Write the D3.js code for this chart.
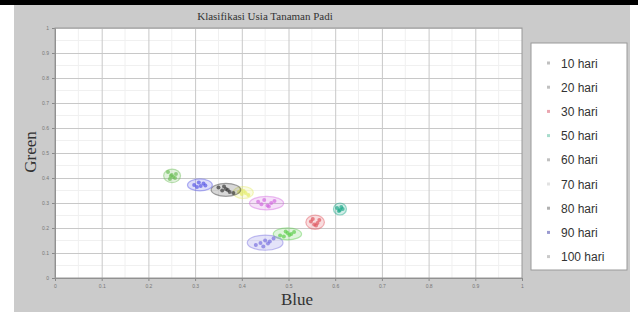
<!DOCTYPE html>
<html>
<head>
<meta charset="utf-8">
<script src="https://cdn.jsdelivr.net/npm/d3@7"></script>
<style>
  body { margin: 0; background: #fff; }
  .tick text { font-family: "Liberation Sans", Arial, sans-serif; font-size: 5px; fill: #777; }
</style>
</head>
<body>
<div class="chart"></div>
<script>
// DATA ------------------------------------
const classes = ["10 hari", "20 hari", "30 hari", "50 hari", "60 hari", "70 hari", "80 hari", "90 hari", "100 hari"];
const colors = ["#6fbf5a", "#d36be0", "#e0575f", "#1fa98a", "#5fcf4f", "#e4ec6a", "#3a3a3a", "#5a5ae6", "#7a72e0"];
const legendColors = ["#c0c0c0", "#c0c0c0", "#eaa6b0", "#a8dccc", "#c0c0c0", "#e2e2e2", "#b0b0b0", "#9a9ad0", "#cacaca"];

// blue / green values of every sample, per class
const blue10 = [0.242, 0.248, 0.257, 0.246, 0.259, 0.253, 0.250];
const green10 = [0.424, 0.408, 0.400, 0.396, 0.416, 0.404, 0.412];
const blue20 = [0.435, 0.442, 0.455, 0.463, 0.470, 0.448, 0.458];
const green20 = [0.305, 0.295, 0.290, 0.300, 0.308, 0.312, 0.286];
const blue30 = [0.548, 0.555, 0.562, 0.566, 0.552, 0.559];
const green30 = [0.226, 0.214, 0.220, 0.232, 0.236, 0.210];
const blue50 = [0.604, 0.610, 0.616, 0.608, 0.613];
const green50 = [0.280, 0.272, 0.276, 0.268, 0.284];
const blue60 = [0.482, 0.490, 0.498, 0.506, 0.512, 0.494, 0.502];
const green60 = [0.170, 0.166, 0.180, 0.176, 0.184, 0.186, 0.172];
const blue70 = [0.394, 0.400, 0.408, 0.414, 0.404, 0.398];
const green70 = [0.344, 0.336, 0.340, 0.332, 0.348, 0.352];
const blue80 = [0.350, 0.358, 0.366, 0.374, 0.382, 0.362, 0.370];
const green80 = [0.362, 0.350, 0.356, 0.344, 0.340, 0.366, 0.352];
const blue90 = [0.298, 0.304, 0.312, 0.318, 0.308, 0.322];
const green90 = [0.372, 0.364, 0.368, 0.378, 0.382, 0.370];
const blue100 = [0.430, 0.440, 0.450, 0.460, 0.468, 0.446, 0.456];
const green100 = [0.132, 0.140, 0.150, 0.146, 0.158, 0.126, 0.138];

const xTicks = [0, 0.1, 0.2, 0.3, 0.4, 0.5, 0.6, 0.7, 0.8, 0.9, 1];
const yTicks = [0, 0.1, 0.2, 0.3, 0.4, 0.5, 0.6, 0.7, 0.8, 0.9, 1];

const blues = [blue10, blue20, blue30, blue50, blue60, blue70, blue80, blue90, blue100];
const greens = [green10, green20, green30, green50, green60, green70, green80, green90, green100];

// CHART INIT ------------------------------
const W = 638, H = 316;
const margin = ({top: 28, right: 116, bottom: 38, left: 55});
const width = W - margin.left - margin.right;
const height = H - margin.top - margin.bottom;

const root = d3.select(".chart").append("svg")
    .attr("width", W)
    .attr("height", H);

// figure background
root.append("rect").attr("x", 0).attr("y", 0).attr("width", W).attr("height", 5).attr("fill", "#000");
root.append("rect").attr("x", 14).attr("y", 5).attr("width", 616).attr("height", 307).attr("fill", "#cbcbcb");

const svg = root.append("g")
    .attr("transform", "translate(" + margin.left + "," + margin.top + ")");

const xScale = d3.scaleLinear().domain([0, 1]).range([0, width]);
const yScale = d3.scaleLinear().domain([0, 1]).range([height, 0]);

svg.append("rect")
    .attr("width", width)
    .attr("height", height)
    .attr("fill", "#fff");

// minor grid
const minor = d3.range(0.05, 1, 0.1);
svg.append("g").selectAll("line").data(minor).enter().append("line")
    .attr("x1", d => xScale(d)).attr("x2", d => xScale(d))
    .attr("y1", 0).attr("y2", height)
    .attr("stroke", "#f0f0f0");
svg.append("g").selectAll("line").data(minor).enter().append("line")
    .attr("y1", d => yScale(d)).attr("y2", d => yScale(d))
    .attr("x1", 0).attr("x2", width)
    .attr("stroke", "#f0f0f0");

// major grid
svg.append("g")
    .call(d3.axisBottom(xScale).tickValues(xTicks).tickSize(height).tickFormat(""))
    .call(g => g.select(".domain").remove())
    .call(g => g.selectAll("line").attr("stroke", "#c8c8c8"));
svg.append("g")
    .call(d3.axisLeft(yScale).tickValues(yTicks).tickSize(-width).tickFormat(""))
    .call(g => g.select(".domain").remove())
    .call(g => g.selectAll("line").attr("stroke", "#c8c8c8"));

// axes
const fmt = d => d === 0 ? "0" : d === 1 ? "1" : d3.format(".1f")(d);
svg.append("g")
    .attr("class", "axis x-axis")
    .attr("transform", `translate(0, ${height})`)
    .call(d3.axisBottom(xScale).tickValues(xTicks).tickSize(3).tickFormat(fmt))
    .call(g => g.selectAll("line, path").attr("stroke", "#888"));
svg.append("g")
    .attr("class", "axis y-axis")
    .call(d3.axisLeft(yScale).tickValues(yTicks).tickSize(3).tickFormat(fmt))
    .call(g => g.selectAll("line, path").attr("stroke", "#888"));

svg.append("rect")
    .attr("width", width)
    .attr("height", height)
    .attr("fill", "none")
    .attr("stroke", "#999");

// clusters: ellipse from the sample spread, then the samples
classes.forEach((c, i) => {
    const pts = blues[i].map((b, j) => [xScale(b), yScale(greens[i][j])]);
    const mx = d3.mean(pts, p => p[0]), my = d3.mean(pts, p => p[1]);
    const rx = Math.max(6.5, 3 * d3.deviation(pts, p => p[0]));
    const ry = Math.max(6, 2.8 * d3.deviation(pts, p => p[1]));
    const g = svg.append("g");
    g.append("ellipse")
        .attr("cx", mx).attr("cy", my)
        .attr("rx", rx).attr("ry", ry)
        .attr("fill", colors[i]).attr("fill-opacity", 0.2)
        .attr("stroke", colors[i]).attr("stroke-opacity", 0.45)
        .attr("stroke-width", 1.2);
    g.selectAll("circle").data(pts).enter().append("circle")
        .attr("cx", d => d[0]).attr("cy", d => d[1])
        .attr("r", 2)
        .attr("fill", colors[i])
        .attr("fill-opacity", 0.7);
});

// titles
root.append("text")
    .attr("x", 265).attr("y", 20)
    .attr("text-anchor", "middle")
    .attr("font-family", "Liberation Serif, serif")
    .attr("font-size", 11)
    .attr("fill", "#333")
    .text("Klasifikasi Usia Tanaman Padi");
root.append("text")
    .attr("x", 297).attr("y", 305)
    .attr("text-anchor", "middle")
    .attr("font-family", "Liberation Serif, serif")
    .attr("font-size", 17)
    .attr("fill", "#333")
    .text("Blue");
root.append("text")
    .attr("transform", "translate(36,152) rotate(-90)")
    .attr("text-anchor", "middle")
    .attr("font-family", "Liberation Serif, serif")
    .attr("font-size", 17)
    .attr("fill", "#333")
    .text("Green");

// legend
const legend = root.append("g").attr("transform", "translate(531,43)");
legend.append("rect")
    .attr("width", 96).attr("height", 227)
    .attr("fill", "#fff")
    .attr("stroke", "#9a9a9a");
const item = legend.selectAll(".item").data(classes).enter().append("g")
    .attr("transform", (d, i) => `translate(0, ${20 + i * 24.2})`);
item.append("rect")
    .attr("x", 16).attr("y", -1.5).attr("width", 3).attr("height", 3)
    .attr("fill", (d, i) => legendColors[i]);
item.append("text")
    .attr("x", 30).attr("y", 4.5)
    .attr("font-family", "Liberation Sans, Arial, sans-serif")
    .attr("font-size", 12)
    .attr("fill", "#333")
    .text(d => d);
</script>
</body>
</html>
